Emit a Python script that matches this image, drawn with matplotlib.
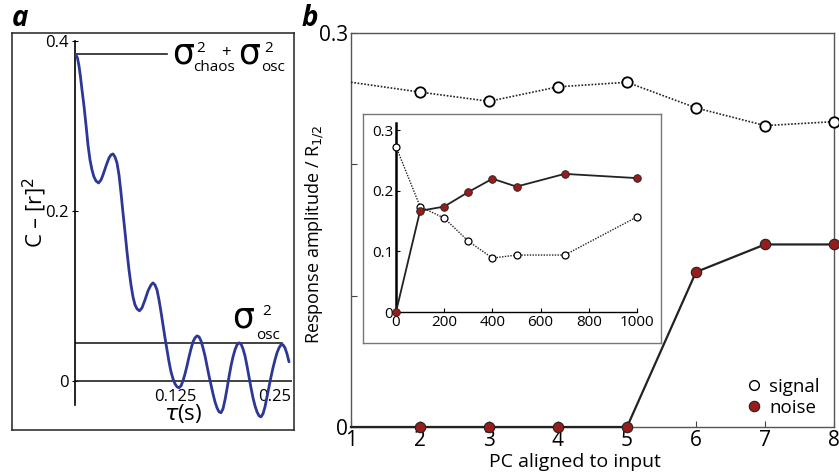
import numpy as np
import matplotlib
import matplotlib.pyplot as plt
from matplotlib.lines import Line2D
from matplotlib.patches import Rectangle

matplotlib.use("Agg")
plt.rcParams["font.family"] = ["Open Sans", "DejaVu Sans"]

# panel a: autocorrelation (tau in ms)
tau_ms = [0, 1.25, 3.1, 5, 6.9, 8.75, 11.25, 13.75, 16.25, 18.75, 21.25, 23.75, 26.25,
          29.4, 32.5, 35, 38.75, 42.5, 45, 47.5, 50, 52.5, 55, 57.5, 60, 62.5, 65,
          67.5, 70, 72.5, 75, 77.5, 80.6, 83.75, 87.5, 91.25,
          95, 97.5, 100, 102.5, 105, 107.5, 110, 112.5, 115, 117.5, 120, 122.5, 125,
          127.5, 130, 132.5, 135, 137.5, 140, 142.5, 145, 147.5, 150, 152.5, 155,
          157.5, 160, 162.5, 165, 167.5, 170, 172.5, 175, 177.5, 180, 182.5, 185,
          187.5, 190, 192.5, 195, 197.5, 200, 202.5, 205, 207.5, 210, 212.5, 215,
          217.5, 220, 222.5, 225, 227.5, 230, 232.5, 235, 237.5, 240, 242.5, 245,
          247.5, 250, 252.5, 255, 257.5, 260, 262.5, 265, 267.5]
corr = [0.3847, 0.3835, 0.38, 0.3706, 0.3576, 0.3424, 0.3235, 0.3012, 0.2776, 0.26,
        0.2482, 0.24, 0.2353, 0.2329, 0.2365, 0.2424, 0.2529, 0.2624, 0.2659, 0.2671,
        0.2635, 0.2565, 0.2424, 0.2212, 0.1976, 0.1753, 0.1518, 0.1306, 0.1129, 0.0988,
        0.0894, 0.0847, 0.0824, 0.0859, 0.0953, 0.1059,
        0.1129, 0.1153, 0.1129, 0.1071, 0.0953, 0.0812, 0.0659, 0.0506, 0.0365, 0.0224,
        0.0106, 0.0024, -0.0035, -0.0071, -0.0082, -0.0059, 0.0, 0.0082, 0.0176, 0.0282,
        0.0376, 0.0459, 0.0506, 0.0529, 0.0518, 0.0471, 0.0388, 0.0294, 0.0176, 0.0059,
        -0.0047, -0.0153, -0.0247, -0.0318, -0.0365, -0.0376, -0.0329, -0.0224, -0.0094,
        0.0047, 0.0176, 0.0282, 0.0365, 0.0424, 0.0447, 0.0435, 0.0376, 0.0294, 0.0176,
        0.0047, -0.0082, -0.02, -0.0294, -0.0365, -0.0412, -0.0424, -0.0388, -0.0306,
        -0.0188, -0.0071, 0.0047, 0.0153, 0.0247, 0.0329, 0.0388, 0.0424, 0.0424,
        0.0388, 0.0318, 0.0224]
assert len(tau_ms) == len(corr)
chaos_level = 0.385
osc_level = 0.045

# panel b
pc = [1, 2, 3, 4, 5, 6, 7, 8]
signal_amp = [0.2625, 0.255, 0.248, 0.259, 0.2625, 0.243, 0.2295, 0.2325]
noise_amp = [0, 0, 0, 0, 0, 0.118, 0.139, 0.139]

# inset
inset_n = [0, 100, 200, 300, 400, 500, 700, 1000]
inset_signal = [0.273, 0.174, 0.155, 0.117, 0.089, 0.094, 0.094, 0.157]
inset_noise = [0, 0.167, 0.174, 0.198, 0.22, 0.207, 0.228, 0.221]

W, H = 839, 475
RED = "#981c1c"
BLUE = "#2d3796"


def box(x0, y0, x1, y1):
    return [x0 / W, 1 - y1 / H, (x1 - x0) / W, (y1 - y0) / H]


def ptext(x, y, s, size, **kw):
    # text placed in pixel coordinates from top-left
    return fig.text(x / W, 1 - y / H, s, fontsize=size, **kw)


fig = plt.figure(figsize=(W / 100, H / 100), dpi=100)

# ---- panel a ----
frame_a = fig.add_axes(box(12, 33, 294, 430))
frame_a.set_xticks([])
frame_a.set_yticks([])
for s in frame_a.spines.values():
    s.set_color("#333333")
    s.set_linewidth(1.2)

ax_a = fig.add_axes(box(75, 36, 292, 425))
ax_a.patch.set_alpha(0)
ax_a.plot(np.array(tau_ms) / 1000, corr, color=BLUE, lw=2.0,
          solid_joinstyle="round", solid_capstyle="round", zorder=3)
ax_a.set_xlim(0, 0.27125)
ax_a.set_ylim(-0.052, 0.4059)
ax_a.axhline(0, color="#222222", lw=1.2)
ax_a.axhline(osc_level, xmax=0.954, color="#222222", lw=1.2)
ax_a.axhline(chaos_level, xmax=0.424, color="#222222", lw=1.2)
for side in ["top", "right"]:
    ax_a.spines[side].set_visible(False)
ax_a.spines["bottom"].set_position(("data", 0))
ax_a.spines["bottom"].set_visible(False)
ax_a.spines["left"].set_bounds(-0.028, 0.4)
ax_a.spines["left"].set_linewidth(1.2)
ax_a.set_yticks([0, 0.2, 0.4], ["0", "0.2", "0.4"], fontsize=12)
ax_a.set_xticks([0.125, 0.25], ["0.125", "0.25"], fontsize=12)
ax_a.tick_params(axis="x", length=0, pad=6)
ax_a.tick_params(axis="y", direction="inout", length=5, pad=2)
ax_a.set_xlabel(r"$\tau$(s)", fontsize=16, labelpad=-2)

# sigma annotations, composed from pieces
ptext(172, 64, "σ", 25, va="baseline", family="DejaVu Sans")
ptext(196, 52, "2", 11, va="baseline")
ptext(193, 71, "chaos", 11, va="baseline")
ptext(226, 53, "+", 12, ha="center", va="center")
ptext(238, 64, "σ", 25, va="baseline", family="DejaVu Sans")
ptext(264, 52, "2", 11, va="baseline")
ptext(261, 71, "osc", 11, va="baseline")
ptext(232, 328, "σ", 25, va="baseline", family="DejaVu Sans")
ptext(262, 315, "2", 11, va="baseline")
ptext(256, 339, "osc", 11, va="baseline")

ptext(35, 213, r"C – [r]$^2$", 16, rotation=90, ha="center", va="center")
ptext(12, 19, "a", 20, weight="bold", style="italic", va="center")

# ---- panel b ----
ax_b = fig.add_axes(box(351, 33, 834, 427))
clip = Rectangle((0, -0.2), 1, 1.4, transform=ax_b.transAxes)
sig_line, = ax_b.plot(pc, signal_amp, ls=(0, (1, 1)), color="#222222", lw=1.2,
                      marker="o", ms=7.5, mfc="white", mec="black", mew=1.3,
                      markevery=list(range(1, len(pc))), clip_on=False, zorder=3)
noi_line, = ax_b.plot(pc, noise_amp, ls="-", color="#222222", lw=1.6,
                      marker="o", ms=7.5, mfc=RED, mec="#222222", mew=0.8,
                      markevery=list(range(1, len(pc))), clip_on=False, zorder=3)
sig_line.set_clip_path(clip)
noi_line.set_clip_path(clip)
ax_b.set_xlim(1, 8)
ax_b.set_ylim(0, 0.3)
ax_b.set_xticks(pc)
ax_b.set_xticklabels([str(p) for p in pc], fontsize=15)
ax_b.set_yticks([0, 0.1, 0.2, 0.3], ["0", "", "", "0.3"], fontsize=15)
ax_b.tick_params(direction="in", length=4, pad=2, color="#444444")
for s in ax_b.spines.values():
    s.set_color("#555555")
    s.set_linewidth(1.0)
ptext(315, 234, "Response amplitude / R$_{1/2}$", 13, rotation=90,
      ha="center", va="center")
ptext(575, 462, "PC aligned to input", 14, ha="center", va="center")
ptext(302, 18, "b", 20, weight="bold", style="italic", va="center")

handles = [Line2D([], [], ls="none", marker="o", ms=7, mfc="white", mec="black", mew=1.0),
           Line2D([], [], ls="none", marker="o", ms=7.5, mfc=RED, mec="#222222", mew=0.8)]
ax_b.legend(handles, ["signal", "noise"], loc="upper left",
            bbox_to_anchor=(745 / W, 1 - 378 / H), bbox_transform=fig.transFigure,
            frameon=False, fontsize=13.5, handlelength=1.0, handletextpad=0.3,
            borderpad=0, labelspacing=0.15, borderaxespad=0)

# ---- inset ----
frame_i = fig.add_axes(box(363, 114, 661, 343))
frame_i.set_xticks([])
frame_i.set_yticks([])
frame_i.set_facecolor("white")
for s in frame_i.spines.values():
    s.set_color("#777777")
    s.set_linewidth(1.0)

ax_i = fig.add_axes(box(396, 123, 637, 312))
ax_i.patch.set_alpha(0)
ax_i.plot(inset_n, inset_signal, ls=(0, (1, 1)), color="#222222", lw=1.0,
          marker="o", ms=5, mfc="white", mec="black", mew=0.9, clip_on=False, zorder=3)
ax_i.plot(inset_n, inset_noise, ls="-", color="#222222", lw=1.3,
          marker="o", ms=5.5, mfc=RED, mec="#222222", mew=0.6, clip_on=False, zorder=3)
ax_i.set_xlim(0, 1000)
ax_i.set_ylim(0, 0.312)
ax_i.set_xticks([0, 200, 400, 600, 800, 1000])
ax_i.set_xticklabels(["0", "200", "400", "600", "800", "1000"], fontsize=11)
ax_i.set_yticks([0, 0.1, 0.2, 0.3], ["0", "0.1", "0.2", "0.3"], fontsize=11)
ax_i.tick_params(direction="in", length=3, pad=2)
for side in ["top", "right"]:
    ax_i.spines[side].set_visible(False)
ax_i.spines["left"].set_linewidth(1.8)
ax_i.spines["left"].set_bounds(0, 0.312)
ax_i.spines["bottom"].set_linewidth(1.0)

fig.savefig("out.png", dpi=100)
